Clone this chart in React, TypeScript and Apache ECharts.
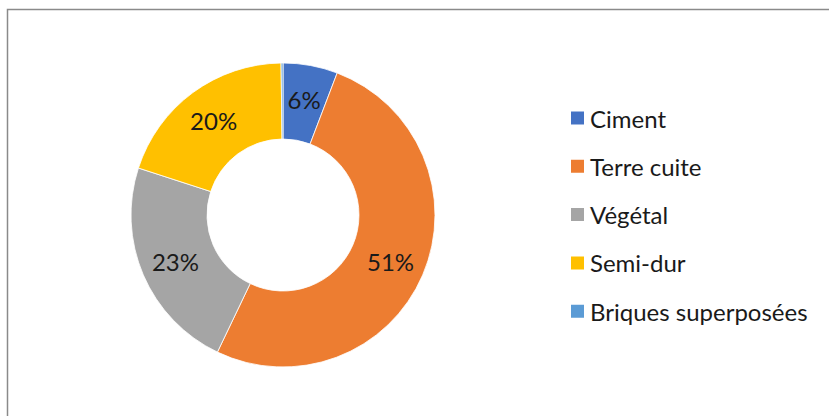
import React, { useEffect, useRef } from "react";
import * as echarts from "echarts";

const categories = ["Ciment", "Terre cuite", "Végétal", "Semi-dur", "Briques superposées"];
const values = [5.8, 51.3, 22.9, 19.8, 0.2];
const colors = ["#4472C4", "#ED7D31", "#A5A5A5", "#FFC000", "#5B9BD5"];

export default function App() {
  const ref = useRef<HTMLDivElement>(null);
  useEffect(() => {
    if (!ref.current) return;
    const chart = echarts.init(ref.current, null, { renderer: "svg" });
    const total = values.reduce((a, b) => a + b, 0);
    chart.setOption({
      animation: false,
      color: colors,
      graphic: [
        {
          type: "rect",
          shape: { x: 7.5, y: 9.5, width: 830, height: 420 },
          style: { fill: "none", stroke: "#8a8a8a", lineWidth: 1.5 },
          silent: true,
        },
      ],
      legend: {
        orient: "vertical",
        left: 564,
        top: 101,
        itemWidth: 15,
        itemHeight: 15,
        itemGap: 24.3,
        icon: "rect",
        textStyle: { fontFamily: "Lato", fontSize: 24, lineHeight: 24, color: "#1a1a1a" },
        data: categories,
      },
      series: [
        {
          type: "pie",
          center: [283, 215],
          radius: [76, 152],
          startAngle: 90,
          clockwise: true,
          avoidLabelOverlap: false,
          itemStyle: { borderColor: "#fff", borderWidth: 0.8 },
          label: {
            show: true,
            position: "inside",
            fontFamily: "Lato",
            fontSize: 24,
            color: "#1a1a1a",
            formatter: (p: any) => (p.value < 1 ? "" : Math.round((p.value / total) * 100) + "%"),
          },
          labelLine: { show: false },
          emphasis: { disabled: true },
          data: categories.map((c, i) => ({ name: c, value: values[i] })),
        },
      ],
    });
    return () => chart.dispose();
  }, []);
  return (
    <div
      ref={ref}
      style={{ position: "fixed", left: 0, top: 0, width: 829, height: 416, background: "#fff" }}
    />
  );
}
